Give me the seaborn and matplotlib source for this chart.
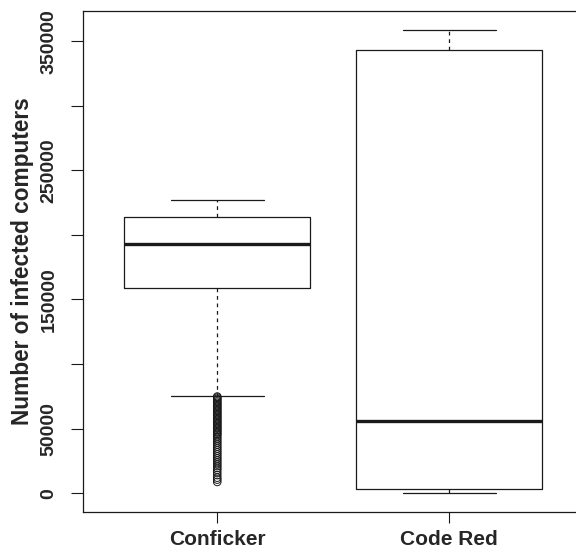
import matplotlib
matplotlib.use("Agg")
import matplotlib.pyplot as plt
import seaborn as sns
import pandas as pd

# ---- data ----
categories = ["Conficker", "Code Red"]
whisker_low = [75500, 0]
q1 = [158600, 3100]
median = [192700, 56200]
q3 = [213800, 343000]
whisker_high = [227200, 359000]

conficker_outliers = [74800, 74000, 73000, 72000, 71000, 70000, 69000, 68000, 67000,
                      66000, 65000, 64000, 63000, 62000, 61000, 60000, 59000, 58000,
                      57000, 56000, 55000, 54000, 53000, 52000, 51000, 50000, 49000,
                      48000, 47000, 46000, 45000, 43500, 42000, 40500, 39000, 37500,
                      36000, 34500, 33000, 31500, 30000, 28500, 27000, 25500, 24000,
                      22500, 21000, 19500, 18000, 16000, 14000, 12000, 10500, 8700]

ytick_values = [0, 50000, 100000, 150000, 200000, 250000, 300000, 350000]
ytick_labels = ["0", "50000", "", "150000", "", "250000", "", "350000"]
y_label = "Number of infected computers"

sns.set_style("ticks")
plt.rcParams["font.family"] = ["Liberation Sans", "DejaVu Sans"]
plt.rcParams["font.weight"] = "bold"

fig = plt.figure(figsize=(5.76, 5.49), dpi=100)
ax = fig.add_axes([82.7 / 576, 1 - 511.7 / 549, (583.8 - 82.7) / 576, (511.7 - 11) / 549])

stats = []
for i, c in enumerate(categories):
    stats.append(dict(label=c, whislo=whisker_low[i], q1=q1[i], med=median[i],
                      q3=q3[i], whishi=whisker_high[i], fliers=[]))

lc = "#1a1a1a"
ax.bxp(stats, positions=[1, 2], widths=0.8, showfliers=False,
       boxprops=dict(color=lc, linewidth=0.9),
       medianprops=dict(color=lc, linewidth=2.4, solid_capstyle="butt"),
       whiskerprops=dict(color=lc, linewidth=0.9, linestyle=(0, (3, 3))),
       capprops=dict(color=lc, linewidth=0.9),
       capwidths=0.4)

out_df = pd.DataFrame({"x": [1] * len(conficker_outliers), "y": conficker_outliers})
sns.scatterplot(data=out_df, x="x", y="y", ax=ax, marker="o", s=30,
                facecolor="none", edgecolor=lc, linewidth=0.7, legend=False)

ax.set_xlim(0.42, 2.58)
ax.set_ylim(-14360, 373360)
ax.set_xticks([1, 2])
ax.set_xticklabels(categories, fontsize=15, fontweight="bold")
ax.set_yticks(ytick_values)
ax.set_yticklabels(ytick_labels, rotation=90, va="center", fontsize=14, fontweight="bold")
ax.set_xlabel("")
ax.set_ylabel(y_label, fontsize=16.3, fontweight="bold", labelpad=5)
ax.tick_params(axis="y", length=8.5, width=0.8, pad=9.5, color=lc)
ax.tick_params(axis="x", length=8, width=0.8, pad=5, color=lc)
for s in ax.spines.values():
    s.set_visible(True)
    s.set_color(lc)
    s.set_linewidth(0.9)

fig.savefig("out.png", dpi=100)
